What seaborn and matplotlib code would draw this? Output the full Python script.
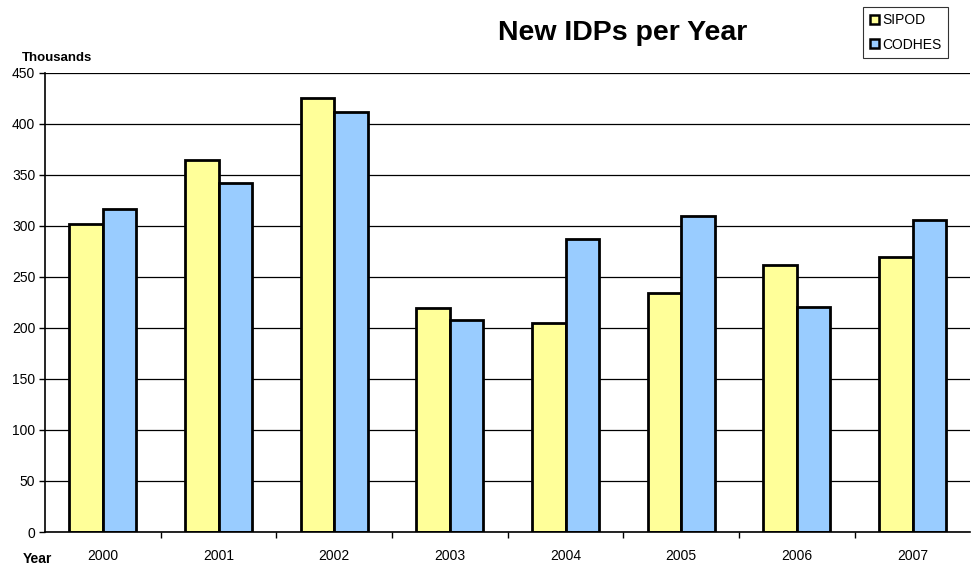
import pandas as pd
import matplotlib.pyplot as plt
import seaborn as sns
from matplotlib.patches import Patch

# values (thousands)
years = ["2000", "2001", "2002", "2003", "2004", "2005", "2006", "2007"]
sipod = [302, 365, 425, 220, 205, 234, 262, 270]
codhes = [317, 342, 412, 208, 287, 310, 221, 306]
series = ["SIPOD", "CODHES"]
colors = {"SIPOD": "#FFFF99", "CODHES": "#99CCFF"}

df = pd.DataFrame({
    "Year": years * 2,
    "Value": sipod + codhes,
    "Source": ["SIPOD"] * len(years) + ["CODHES"] * len(years),
})

sns.set_style("white")
plt.rcParams["font.family"] = ["Liberation Sans", "DejaVu Sans"]
plt.rcParams["text.color"] = "black"
plt.rcParams["xtick.color"] = "black"
plt.rcParams["ytick.color"] = "black"

fig = plt.figure(figsize=(9.72, 5.71), dpi=100)
ax = fig.add_axes([0.0463, 0.0683, 0.952, 0.804])

sns.barplot(data=df, x="Year", y="Value", hue="Source", hue_order=series,
            palette=colors, saturation=1, width=0.58, edgecolor="black",
            linewidth=2.0, legend=False, ax=ax)

ax.set_ylim(0, 450)
ax.set_xlim(-0.5, len(years) - 0.5)
ax.set_yticks(range(0, 451, 50))
ax.yaxis.grid(True, color="black", linewidth=0.9)
ax.set_axisbelow(True)
for side in ["top", "right"]:
    ax.spines[side].set_visible(False)
ax.spines["left"].set_color("black")
ax.spines["bottom"].set_color("black")
ax.spines["left"].set_linewidth(1.2)
ax.spines["bottom"].set_linewidth(1.2)

ax.tick_params(axis="y", left=True, length=4, width=1, labelsize=10, pad=3)
ax.tick_params(axis="x", which="major", length=0, labelsize=10, pad=12)
ax.set_xticks([i + 0.5 for i in range(len(years) - 1)], minor=True)
ax.tick_params(axis="x", which="minor", bottom=True, length=4, width=1)
ax.set_xlabel("")
ax.set_ylabel("")

fig.text(0.023, 0.893, "Thousands", fontsize=9.5, fontweight="bold")
fig.text(0.023, 0.014, "Year", fontsize=10, fontweight="bold")
fig.text(0.641, 0.942, "New IDPs per Year", fontsize=20.5, fontweight="bold",
         ha="center", va="center")

handles = [Patch(facecolor=colors[s], edgecolor="black", linewidth=1.8, label=s)
           for s in series]
leg = fig.legend(handles=handles, loc="upper right", bbox_to_anchor=(0.975, 0.988),
                 fontsize=10, frameon=True, fancybox=False, handlelength=0.65,
                 handleheight=0.65, handletextpad=0.25, borderpad=0.45,
                 labelspacing=0.75, borderaxespad=0)
leg.get_frame().set_edgecolor("black")
leg.get_frame().set_linewidth(0.8)

fig.savefig("out.png", dpi=100)
